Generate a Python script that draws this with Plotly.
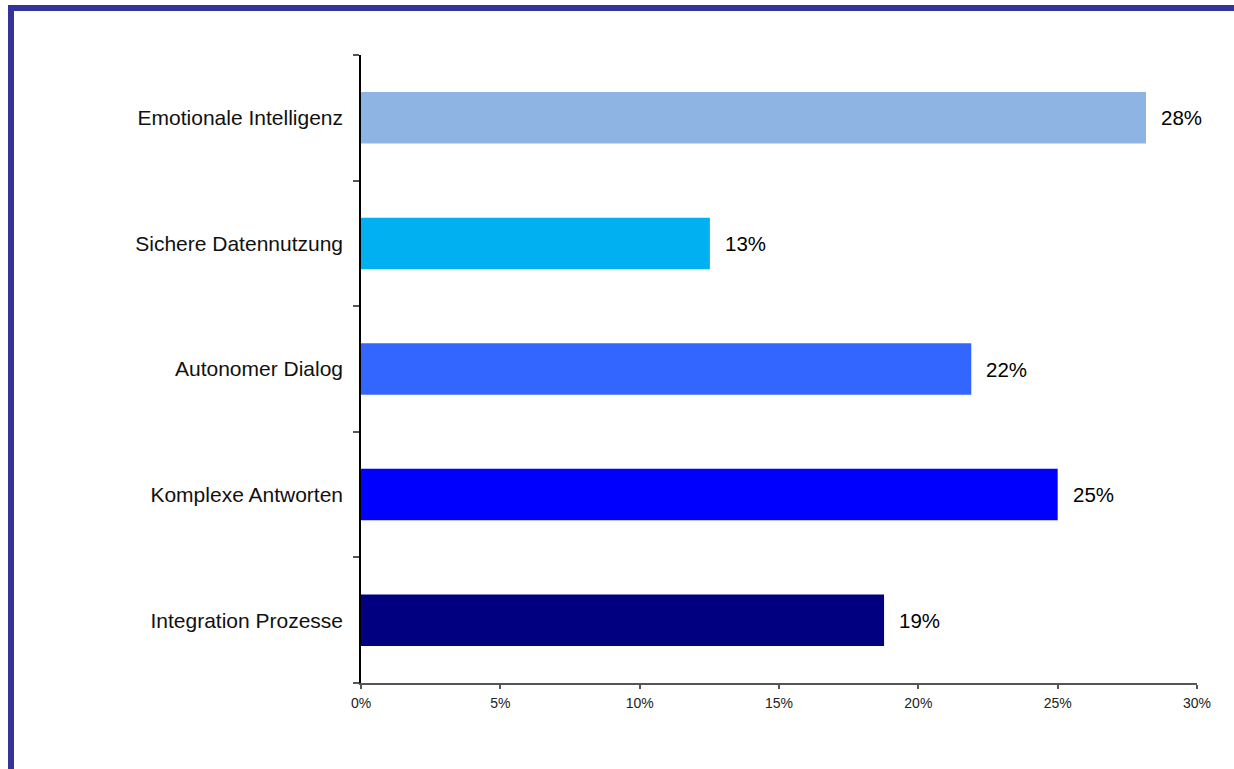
import plotly.graph_objects as go

# Survey results: share of respondents per capability
categories = ["Emotionale Intelligenz", "Sichere Datennutzung", "Autonomer Dialog",
              "Komplexe Antworten", "Integration Prozesse"]
values = [0.2817, 0.1252, 0.219, 0.250, 0.1877]
bar_colors = ["#8EB4E3", "#00B0F0", "#3366FF", "#0000FF", "#000080"]

W, H = 1234, 769
ML, MR, MT, MB = 361, 37, 55, 86
PW, PH = W - ML - MR, H - MT - MB
FONT = "Liberation Sans, Arial, sans-serif"

fig = go.Figure(
    go.Bar(
        y=categories,
        x=values,
        orientation="h",
        marker=dict(color=bar_colors, line=dict(width=0)),
        width=0.41,
        hoverinfo="skip",
    )
)

# Value labels to the right of each bar
for cat, val in zip(categories, values):
    fig.add_annotation(
        x=val, y=cat, xref="x", yref="y",
        text=f"{round(val * 100)}%",
        showarrow=False, xanchor="left", xshift=13,
        font=dict(family=FONT, size=20.5, color="#000000"),
    )

# Frame lines along the left and top edges of the page
def px_x(p):
    return (p - ML) / PW

def px_y(p):
    return (H - MB - p) / PH

frame_path = (f"M {px_x(11)} {px_y(H + 5)} L {px_x(11)} {px_y(8)} "
              f"L {px_x(W + 5)} {px_y(8)}")
fig.add_shape(type="path", path=frame_path, xref="paper", yref="paper",
              line=dict(color="#333399", width=6), layer="above")

fig.update_layout(
    width=W, height=H,
    margin=dict(l=ML, r=MR, t=MT, b=MB),
    paper_bgcolor="white", plot_bgcolor="white",
    showlegend=False,
    font=dict(family=FONT, color="#000000"),
    xaxis=dict(
        range=[0, 0.30], dtick=0.05, tickformat=".0%",
        showgrid=False, zeroline=False,
        showline=True, linecolor="#555555", linewidth=1.5,
        ticks="outside", ticklen=4, tickcolor="#555555", tickwidth=1.5,
        tickfont=dict(size=14, color="#222222"),
        ticklabelstandoff=2,
    ),
    yaxis=dict(
        categoryorder="array", categoryarray=categories[::-1],
        showgrid=False, zeroline=False,
        showline=True, linecolor="#000000", linewidth=1.5,
        ticks="outside", tickson="boundaries", ticklen=6,
        tickcolor="#555555", tickwidth=1.5,
        tickfont=dict(size=21, color="#111111"),
        ticklabelstandoff=12,
    ),
)

fig.write_html("out.html")
